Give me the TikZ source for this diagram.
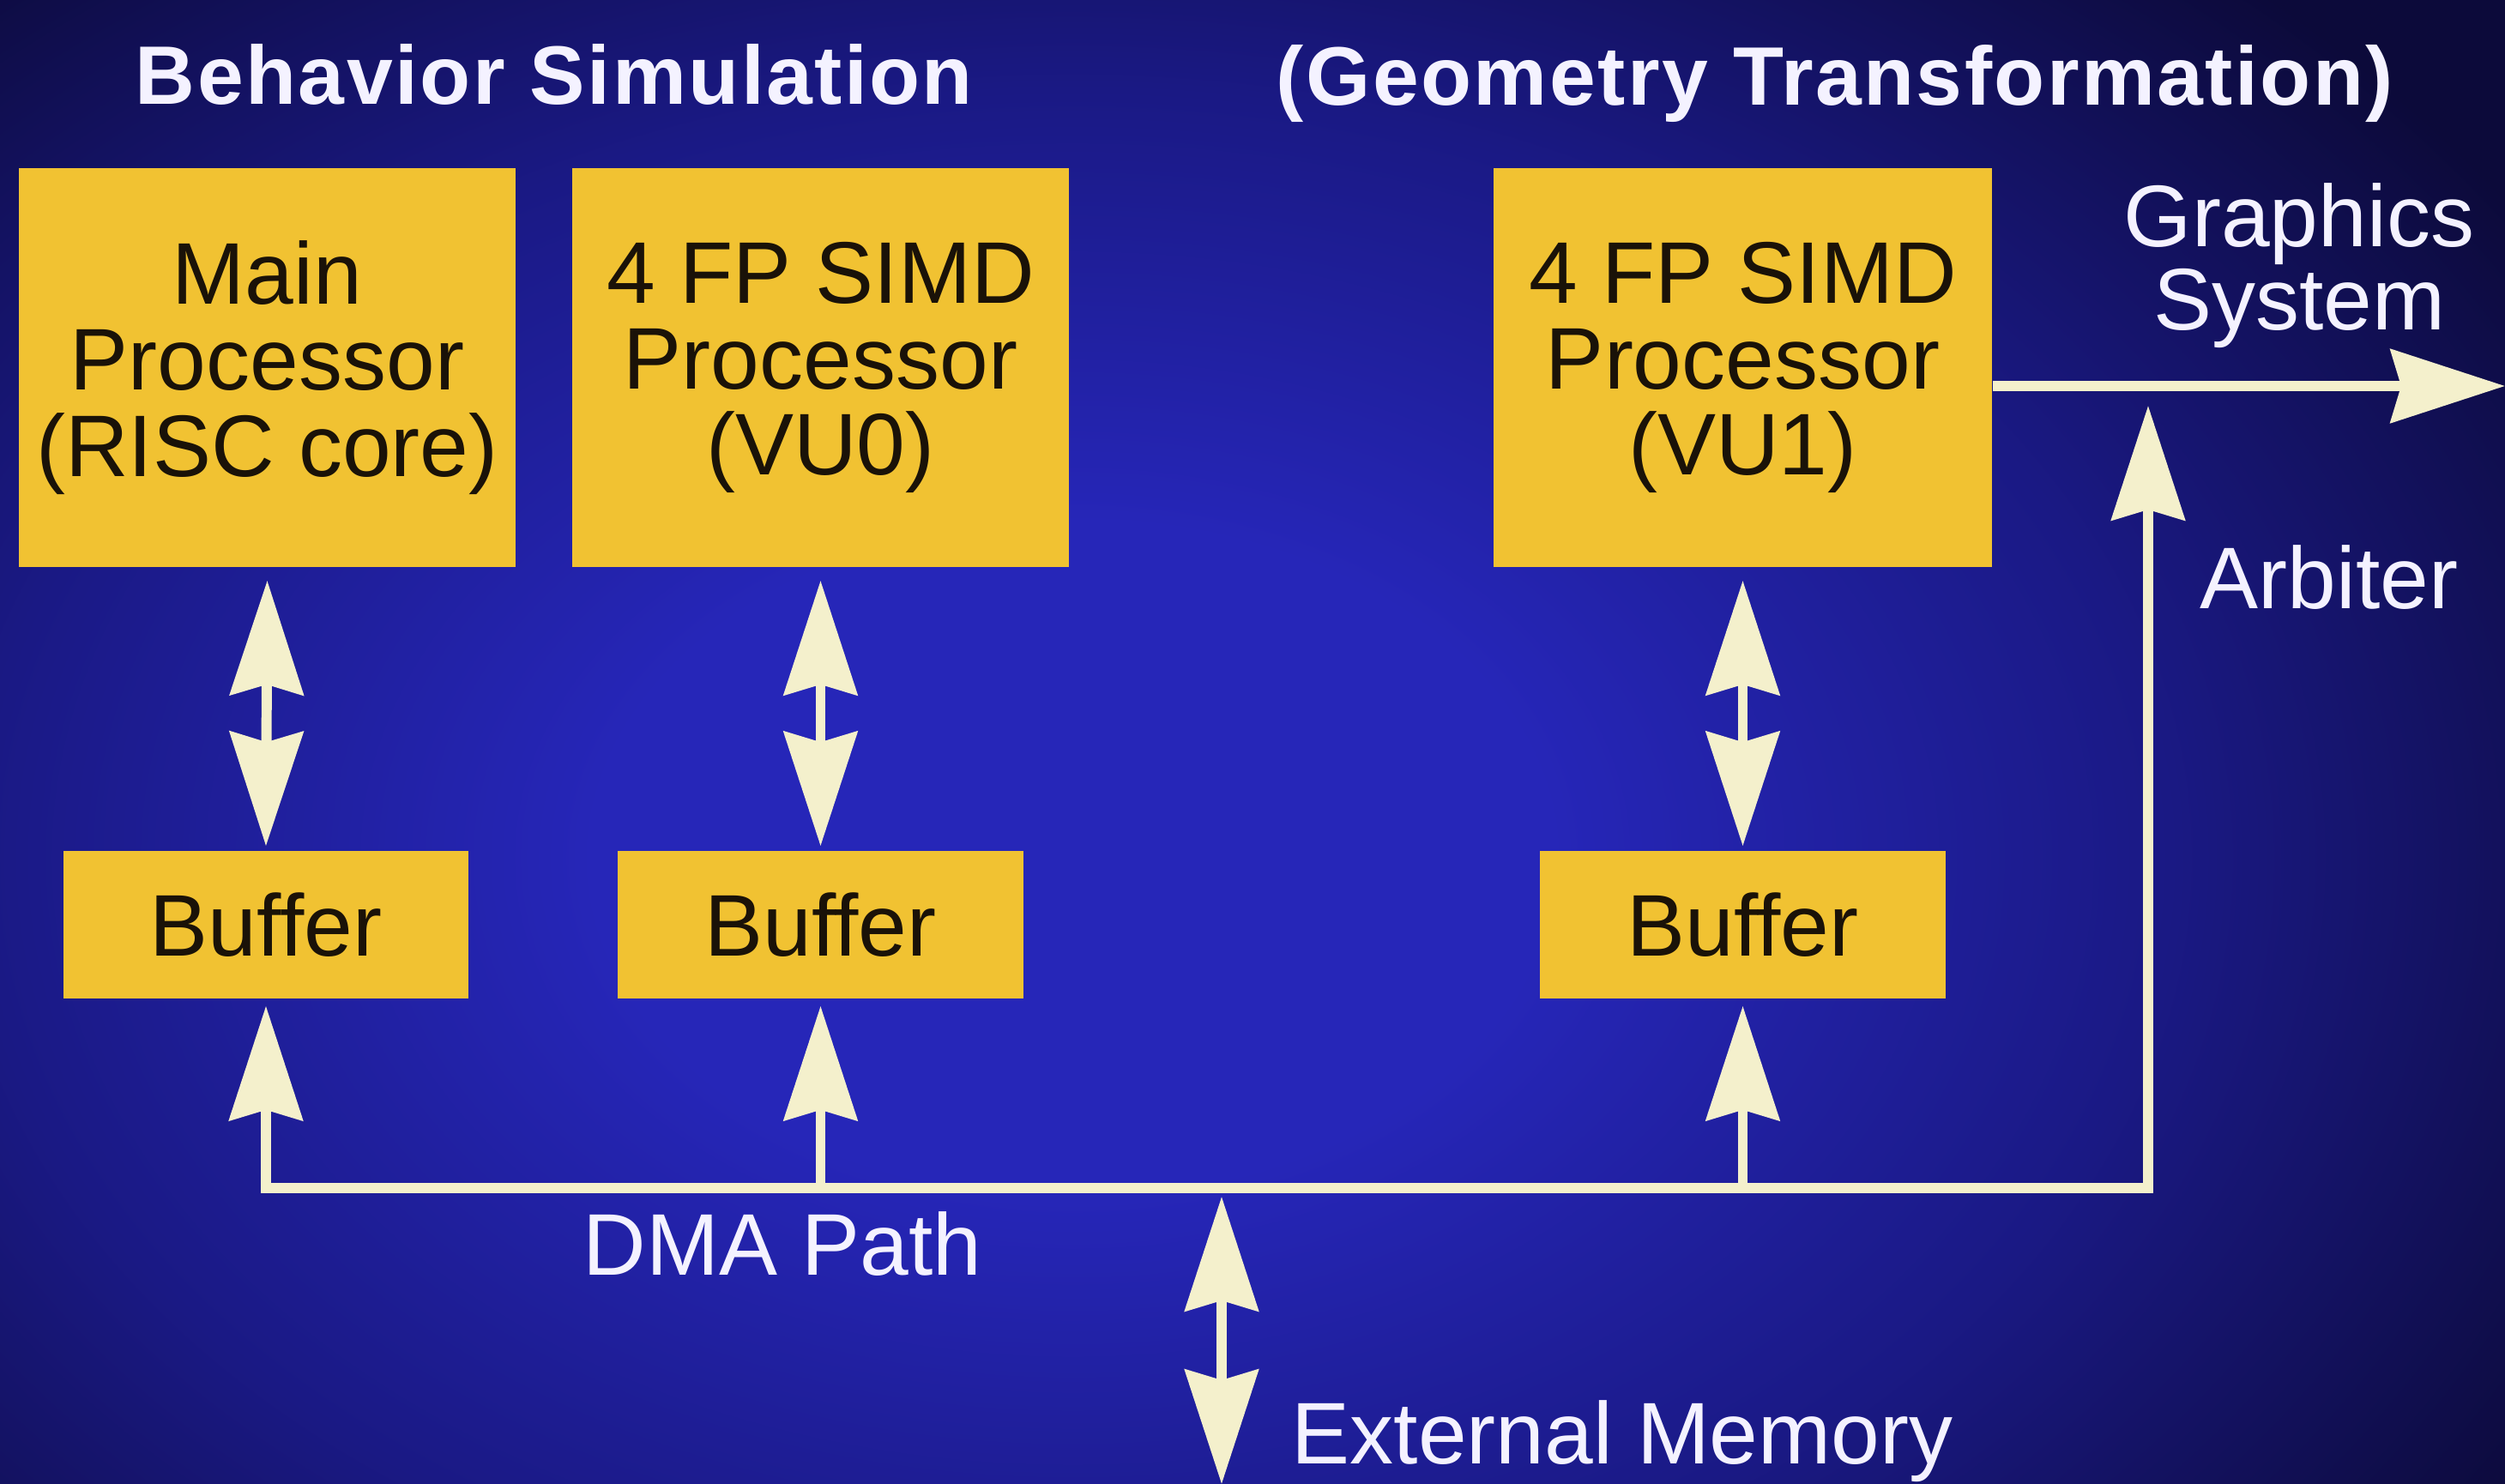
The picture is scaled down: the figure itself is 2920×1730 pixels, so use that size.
\documentclass[tikz,border=0pt]{standalone}
\usepackage{fontspec}
\setmainfont{Liberation Sans}
\newfontfamily\titlefont[LetterSpace=2.5]{Liberation Sans Bold}
\usetikzlibrary{arrows.meta,calc}
\definecolor{bgdark}{HTML}{0C0A3A}
\definecolor{bgmid}{HTML}{1A1984}
\definecolor{bgglow}{HTML}{2626B8}
\definecolor{boxfill}{HTML}{F1C232}
\definecolor{arrowc}{HTML}{F4F0CC}
\definecolor{lblc}{HTML}{F4F2FF}
\definecolor{boxtext}{HTML}{1A1208}
\pgfdeclareradialshading{glowshade}{\pgfpoint{0bp}{0bp}}{color(0bp)=(bgglow); color(7bp)=(bgglow); color(16bp)=(bgmid); color(25bp)=(bgdark); color(50bp)=(bgdark)}
\tikzset{
  procbox/.style={fill=boxfill, draw=none, minimum width=5.79cm, minimum height=4.65cm, inner sep=0pt,
    align=center, text=boxtext, font=\fontsize{29}{28.5}\selectfont},
  bufbox/.style={fill=boxfill, draw=none, minimum width=4.72cm, minimum height=1.72cm, inner sep=0pt,
    align=center, text=boxtext, font=\fontsize{29}{28.5}\selectfont},
  lbl/.style={text=lblc, inner sep=0pt, align=center, font=\fontsize{29}{27.5}\selectfont},
  ttl/.style={text=lblc, inner sep=0pt, font=\titlefont\fontsize{27.5}{27.5}\selectfont},
  conn/.style={draw=arrowc, line width=3.4pt},
  onehead/.style={-{Stealth[length=1.33cm,width=0.85cm,inset=0.12cm,fill=arrowc]}},
  twohead/.style={{Stealth[length=1.33cm,width=0.85cm,inset=0.12cm,fill=arrowc]}-{Stealth[length=1.33cm,width=0.85cm,inset=0.12cm,fill=arrowc]}}
}
\begin{document}
\begin{tikzpicture}[x=0.01cm,y=-0.01cm]
\useasboundingbox (0,0) rectangle (2920,1730);
\fill[bgdark] (0,0) rectangle (2920,1730);
\begin{scope}
\clip (0,0) rectangle (2920,1730);
\shade[shading=glowshade] (1250,1000) ellipse (2000 and 1400);
\end{scope}

% titles
\node[ttl, anchor=base] (t1) at (646,121) {Behavior Simulation};
\node[ttl, anchor=base] (t2) at (2139,122) {(Geometry Transformation)};

% processors
\node[procbox] (m)  at (311.5,428.5) {Main\\Processor\\(RISC core)};
\node[procbox] (v0) at (956.5,428.5) {4 FP SIMD\\Processor\\(VU0)};
\node[procbox, minimum width=5.81cm] (v1) at (2031.5,428.5) {4 FP SIMD\\Processor\\(VU1)};

% buffers
\node[bufbox] (b1) at (310,1078) {Buffer};
\node[bufbox] (b2) at (956.5,1078) {Buffer};
\node[bufbox] (b3) at (2031.5,1078) {Buffer};

% labels
\node[lbl, anchor=base] (gs) at (2680,384) {Graphics\\System};
\node[lbl, anchor=base] (arb) at (2715,709) {Arbiter};
\node[lbl, anchor=base] (dma) at (912,1486) {DMA Path};
\node[lbl, anchor=base west] (mem) at (1505,1706) {External Memory};

% coordinates
\coordinate (busL) at (310,1385);
\coordinate (busR) at (2504,1385);
\coordinate (arbTip) at (2504,473);
\coordinate (gsEnd) at (2920,450);
\coordinate (memTop) at (1424,1395);
\coordinate (memBot) at (1424,1730);

% processor <-> buffer
\draw[conn, twohead] ([yshift=-0.15cm]m.south) -- ([yshift=0.05cm]b1.north);
\draw[conn, twohead] ([yshift=-0.15cm]v0.south) -- ([yshift=0.05cm]b2.north);
\draw[conn, twohead] ([yshift=-0.15cm]v1.south) -- ([yshift=0.05cm]b3.north);

% DMA bus and arbiter
\draw[conn, onehead, line cap=rect, line join=miter] (busL) -- (busR) -- (arbTip);
\draw[conn, onehead] (busL) -- ([yshift=-0.08cm]b1.south);
\draw[conn, onehead] (b2.south |- busL) -- ([yshift=-0.08cm]b2.south);
\draw[conn, onehead] (b3.south |- busL) -- ([yshift=-0.08cm]b3.south);

% graphics output
\draw[conn, onehead] (v1.east |- gsEnd) -- (gsEnd);

% external memory
\draw[conn, twohead] (memTop) -- (memBot);
\end{tikzpicture}
\end{document}
